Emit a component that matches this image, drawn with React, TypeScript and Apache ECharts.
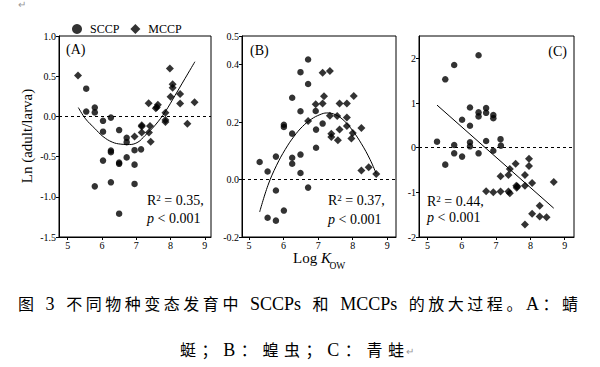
import React, { useEffect, useRef } from "react";
import * as echarts from "echarts";

// ---------- data ----------
const xTicks = [5, 6, 7, 8, 9];
const yTicksA = [-1.5, -1.0, -0.5, 0.0, 0.5, 1.0];
const yTicksB = [-0.2, 0.0, 0.2, 0.4, 0.5];
const yTicksC = [-2, -1, 0, 1, 2];

const sccpA = [
  [5.54, 0.345], [5.54, 0.06], [5.79, 0.11], [5.79, 0.05], [5.79, -0.87],
  [6.03, -0.055], [6.03, -0.19], [6.03, -0.55], [6.26, -0.015], [6.26, -0.425],
  [6.26, -0.445], [6.26, -0.82], [6.5, -0.17], [6.5, -0.575], [6.5, -0.59],
  [6.5, -1.21], [6.72, -0.265], [6.72, -0.32], [6.72, -0.51], [6.95, -0.42],
  [6.95, -0.6], [6.95, -0.84], [7.14, -0.41],
];
const mccpA = [
  [5.3, 0.51], [6.95, -0.25], [7.16, -0.11], [7.16, -0.125], [7.16, -0.2],
  [7.36, 0.165], [7.37, -0.2], [7.4, -0.12], [7.42, -0.315], [7.57, 0.1],
  [7.6, 0.115], [7.63, 0.145], [7.85, 0.045], [7.85, -0.045], [7.85, -0.07],
  [7.98, 0.595], [8.0, 0.245], [8.06, 0.4], [8.06, 0.355], [8.28, 0.28],
  [8.28, 0.16], [8.49, -0.09], [8.7, 0.175],
];
const fitA = [
  [5.31, 0.11], [5.52, -0.03], [5.79, -0.15], [6.03, -0.25], [6.3, -0.32],
  [6.55, -0.345], [6.8, -0.35], [7.05, -0.32], [7.25, -0.24], [7.55, -0.11],
  [7.84, 0.055], [8.13, 0.26], [8.42, 0.47], [8.71, 0.68],
];

const sccpB = [
  [5.31, 0.061], [5.54, 0.028], [5.54, -0.133], [5.78, 0.08], [5.78, -0.038],
  [5.78, -0.143], [6.01, 0.191], [6.01, 0.183], [6.01, -0.108], [6.25, 0.285],
  [6.25, 0.16], [6.25, 0.076], [6.25, 0.055], [6.49, 0.374], [6.49, 0.238],
  [6.49, 0.087], [6.49, 0.023], [6.71, 0.418], [6.71, 0.333], [6.71, -0.028],
  [6.93, 0.239], [6.94, 0.174], [6.94, 0.111], [7.13, 0.195],
];
const mccpB = [
  [6.71, 0.204], [6.93, 0.262], [7.13, 0.372], [7.17, 0.29], [7.13, 0.265],
  [7.34, 0.378], [7.34, 0.222], [7.38, 0.16], [7.38, 0.148], [7.55, 0.221],
  [7.62, 0.265], [7.62, 0.174], [7.57, 0.137], [7.83, 0.265], [7.83, 0.216],
  [7.83, 0.187], [7.96, 0.143], [8.0, 0.162], [8.03, 0.291], [8.25, 0.18],
  [8.25, 0.032], [8.46, 0.043], [8.68, 0.019],
];
const fitB = [
  [5.31, -0.113], [5.55, -0.02], [5.8, 0.05], [6.05, 0.105], [6.3, 0.15],
  [6.55, 0.185], [6.8, 0.21], [7.05, 0.226], [7.25, 0.232], [7.5, 0.226],
  [7.75, 0.205], [8.0, 0.17], [8.25, 0.125], [8.5, 0.07], [8.68, 0.02],
];

const sccpC = [
  [5.28, 0.134], [5.52, 1.53], [5.52, -0.38], [5.78, 1.85], [5.78, 0.06],
  [5.78, -0.127], [6.01, 0.625], [6.01, -0.2], [6.24, 0.9], [6.24, 0.49],
  [6.24, 0.12], [6.24, 0.03], [6.49, 2.07], [6.49, 0.79], [6.49, 0.7],
  [6.49, -0.127], [6.71, 0.886], [6.71, 0.78], [6.71, 0.15], [6.92, 0.73],
  [6.92, 0.66], [6.92, -0.07], [7.13, 0.19], [7.14, 0.045],
];
const mccpC = [
  [6.71, -0.975], [6.92, -1.0], [7.13, -0.64], [7.13, -0.98], [7.36, -0.61],
  [7.4, -0.475], [7.36, -0.98], [7.4, -1.02], [7.57, -0.36], [7.59, -0.85],
  [7.62, -0.87], [7.6, -0.9], [7.84, -0.61], [7.84, -0.85], [7.84, -1.72],
  [7.96, -0.25], [7.96, -0.41], [8.05, -0.79], [8.05, -1.48], [8.27, -1.3],
  [8.27, -1.54], [8.47, -1.56], [8.68, -0.77],
];
const fitC = [[5.28, 0.953], [8.68, -1.355]];

const stats = [
  { r2: "0.35", p: "0.001" },
  { r2: "0.37", p: "0.001" },
  { r2: "0.44", p: "0.001" },
];
const panelLabels = ["(A)", "(B)", "(C)"];

const captionLine1 = "图 3 不同物种变态发育中 SCCPs 和 MCCPs 的放大过程。A：蜻";
const captionLine2 = "蜓；B：蝗虫；C：青蛙";

// ---------- layout helpers ----------
const SERIF = "'Liberation Serif', 'Times New Roman', serif";
const CJK_FONT = "'Noto Sans CJK SC', serif";
const latinW: Record<string, number> = {
  S: 0.556, C: 0.667, P: 0.556, s: 0.389, M: 0.889, A: 0.722, B: 0.667, "3": 0.5, " ": 0.25,
};
const isCJK = (ch: string) => ch.charCodeAt(0) > 0x2e80;
function tokWidth(t: string, cfs: number, lfs: number) {
  let w = 0;
  for (const ch of t) w += isCJK(ch) ? cfs : (latinW[ch] ?? 0.5) * lfs;
  return w;
}
function layoutLine(line: string, x0: number, x1: number, y: number, cfs: number, lfs: number) {
  const toks = line.match(/[A-Za-z0-9]+|\s|./gu) || [];
  const natural = toks.reduce((a, t) => a + tokWidth(t, cfs, lfs), 0);
  const gap = (x1 - x0 - natural) / (toks.length - 1);
  const els: any[] = [];
  let x = x0;
  for (const t of toks) {
    if (t.trim() !== "") {
      const cjk = isCJK(t);
      els.push({
        type: "text",
        x,
        y: cjk ? y : y + 0.5,
        style: {
          text: t,
          font: cjk ? `${cfs}px ${CJK_FONT}` : `${lfs}px ${SERIF}`,
          fill: "#000",
          verticalAlign: "middle",
          align: "left",
        },
      });
    }
    x += tokWidth(t, cfs, lfs) + gap;
  }
  return els;
}

const grids = [
  { left: 59, top: 36, width: 152, height: 201 },
  { left: 242, top: 36, width: 154, height: 201 },
  { left: 419, top: 36, width: 155, height: 201 },
];
const xRanges = [
  [4.746, 9.18],
  [4.8, 9.25],
  [4.755, 9.27],
];

export default function App() {
  const ref = useRef<HTMLDivElement>(null);
  useEffect(() => {
    document.body.style.margin = "0";
    const chart = echarts.init(ref.current!, null, { renderer: "svg" });

    const xAxis = grids.map((_, i) => ({
      type: "value",
      gridIndex: i,
      min: xRanges[i][0],
      max: xRanges[i][1],
      axisLine: { show: true, onZero: false, lineStyle: { color: "#000", width: 1 } },
      axisTick: { show: true, length: 3, customValues: xTicks, lineStyle: { color: "#000" } },
      axisLabel: { customValues: xTicks, color: "#000", fontSize: 10, fontFamily: SERIF, margin: 3 },
      splitLine: { show: false },
    }));
    const yCfg = [
      { min: -1.5, max: 1.0, ticks: yTicksA, fmt: (v: number) => v.toFixed(1) },
      { min: -0.2, max: 0.5, ticks: yTicksB, fmt: (v: number) => v.toFixed(1) },
      { min: -2, max: 2.5, ticks: yTicksC, fmt: (v: number) => String(Math.round(v)) },
    ];
    const yAxis = yCfg.map((c, i) => ({
      type: "value",
      gridIndex: i,
      min: c.min,
      max: c.max,
      axisLine: { show: true, onZero: false, lineStyle: { color: "#000", width: 1 } },
      axisTick: { show: true, length: 3, customValues: c.ticks, lineStyle: { color: "#000" } },
      axisLabel: { customValues: c.ticks, formatter: c.fmt, color: "#000", fontSize: 10, fontFamily: SERIF, margin: 3 },
      splitLine: { show: false },
    }));

    const sets = [
      [sccpA, mccpA, fitA],
      [sccpB, mccpB, fitB],
      [sccpC, mccpC, fitC],
    ];
    const series: any[] = [];
    sets.forEach(([s, m, f], i) => {
      series.push({
        type: "line",
        name: "fit" + i,
        xAxisIndex: i,
        yAxisIndex: i,
        data: f,
        smooth: f.length > 2 ? 0.4 : false,
        symbol: "none",
        lineStyle: { color: "#000", width: 1 },
        z: 2,
        markLine: {
          silent: true,
          symbol: ["none", "none"],
          label: { show: false },
          lineStyle: { color: "#000", width: 1, type: [3, 3] },
          data: [{ yAxis: 0 }],
        },
      });
      series.push({
        type: "scatter",
        name: "SCCP",
        xAxisIndex: i,
        yAxisIndex: i,
        data: s,
        symbol: "circle",
        symbolSize: 6.5,
        itemStyle: { color: "#000" },
        z: 3,
      });
      series.push({
        type: "scatter",
        name: "MCCP",
        xAxisIndex: i,
        yAxisIndex: i,
        data: m,
        symbol: "diamond",
        symbolSize: 8,
        itemStyle: { color: "#000" },
        z: 3,
      });
    });

    const statPos = [
      { x: 147, y1: 200, y2: 218 },
      { x: 328, y1: 200, y2: 219 },
      { x: 427, y1: 201, y2: 217 },
    ];
    const graphics: any[] = [];
    statPos.forEach((p, i) => {
      graphics.push({
        type: "text",
        x: p.x,
        y: p.y1,
        style: {
          text: `{n|R}{s|2}{n| = ${stats[i].r2},}`,
          verticalAlign: "middle",
          rich: {
            n: { fontSize: 14, fontFamily: SERIF, fill: "#000" },
            s: { fontSize: 9, fontFamily: SERIF, fill: "#000", verticalAlign: "top" },
          },
        },
      });
      graphics.push({
        type: "text",
        x: p.x,
        y: p.y2,
        style: {
          text: `{i|p}{n| < ${stats[i].p}}`,
          verticalAlign: "middle",
          rich: {
            i: { fontSize: 14, fontFamily: SERIF, fontStyle: "italic", fill: "#000" },
            n: { fontSize: 14, fontFamily: SERIF, fill: "#000" },
          },
        },
      });
    });
    const labelPos = [
      { x: 66, y: 49, align: "left" },
      { x: 250, y: 50, align: "left" },
      { x: 567, y: 51, align: "right" },
    ];
    labelPos.forEach((p, i) => {
      graphics.push({
        type: "text",
        x: p.x,
        y: p.y,
        style: { text: panelLabels[i], font: `14px ${SERIF}`, fill: "#000", align: p.align, verticalAlign: "middle" },
      });
    });
    // axis titles
    graphics.push({
      type: "text",
      x: 27,
      y: 136,
      rotation: Math.PI / 2,
      style: { text: "Ln (adult/larva)", font: `15px ${SERIF}`, fill: "#000", align: "center", verticalAlign: "middle" },
    });
    graphics.push({
      type: "text",
      x: 293,
      y: 258,
      style: {
        text: "{n|Log }{i|K}",
        verticalAlign: "middle",
        rich: {
          n: { fontSize: 15, fontFamily: SERIF, fill: "#000" },
          i: { fontSize: 15, fontFamily: SERIF, fontStyle: "italic", fill: "#000" },
        },
      },
    });
    graphics.push({
      type: "text",
      x: 329.5,
      y: 265.5,
      style: { text: "OW", font: `9.5px ${SERIF}`, fill: "#000", verticalAlign: "middle" },
    });
    // paragraph marks
    graphics.push({
      type: "text",
      x: 18,
      y: 4,
      style: { text: "↵", font: `10px ${SERIF}`, fill: "#999", verticalAlign: "middle" },
    });
    graphics.push(...layoutLine(captionLine1, 18, 578, 303, 16, 18));
    graphics.push(...layoutLine(captionLine2, 180, 404, 349, 16, 18));
    graphics.push({
      type: "text",
      x: 406,
      y: 351,
      style: { text: "↵", font: `10px ${SERIF}`, fill: "#999", verticalAlign: "middle" },
    });

    chart.setOption({
      animation: false,
      backgroundColor: "#fff",
      legend: {
        data: [
          { name: "SCCP", icon: "circle" },
          { name: "MCCP", icon: "diamond" },
        ],
        left: 67,
        top: 18,
        itemWidth: 10,
        itemHeight: 10,
        itemGap: 11,
        selectedMode: false,
        textStyle: { fontFamily: SERIF, fontSize: 12, color: "#000", padding: [0, 0, 0, 3] },
      },
      grid: grids.map((g) => ({ ...g, show: true, borderColor: "#000", borderWidth: 1, backgroundColor: "transparent" })),
      xAxis,
      yAxis,
      series,
      graphic: graphics,
    });
    return () => chart.dispose();
  }, []);
  return <div ref={ref} style={{ width: 600, height: 367 }} />;
}
